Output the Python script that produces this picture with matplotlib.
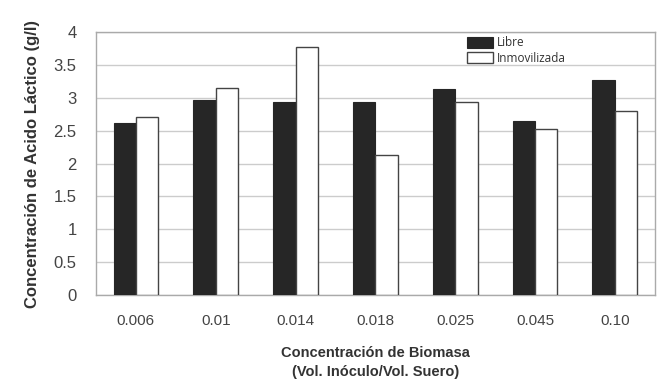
import matplotlib
matplotlib.use("Agg")
import matplotlib.pyplot as plt
import numpy as np

plt.rcParams['font.family'] = ['Liberation Sans', 'DejaVu Sans']

categorias = ["0.006", "0.01", "0.014", "0.018", "0.025", "0.045", "0.10"]
libre = [2.62, 2.97, 2.94, 2.93, 3.13, 2.65, 3.27]
inmovilizada = [2.71, 3.15, 3.77, 2.13, 2.93, 2.52, 2.80]
yticks = [0, 0.5, 1, 1.5, 2, 2.5, 3, 3.5, 4]
yticklabels = ["0", "0.5", "1", "1.5", "2", "2.5", "3", "3.5", "4"]

fig = plt.figure(figsize=(6.62, 3.88), dpi=100)
ax = fig.add_axes([0.145, 0.24, 0.844, 0.677])

x = np.arange(len(categorias))
w = 0.28
ax.bar(x - w/2, libre, w, color="#262626", edgecolor="#262626", linewidth=0.8, label="Libre", zorder=3)
ax.bar(x + w/2, inmovilizada, w, color="white", edgecolor="#444444", linewidth=1.0, label="Inmovilizada", zorder=3)

ax.set_xlim(-0.5, len(categorias) - 0.5)
ax.set_ylim(0, 4)
ax.set_yticks(yticks)
ax.set_yticklabels(yticklabels)
ax.set_xticks(x)
ax.set_xticklabels(categorias)
ax.tick_params(axis="both", length=0, colors="#444444")
ax.tick_params(axis="x", pad=14, labelsize=11)
ax.tick_params(axis="y", pad=14, labelsize=12)
ax.grid(axis="y", color="#cccccc", linewidth=1, zorder=0)
for s in ax.spines.values():
    s.set_color("#aaaaaa")
    s.set_linewidth(1)

ax.set_ylabel("Concentración de Acido Láctico (g/l)", fontsize=12, fontweight="bold", color="#333333", labelpad=10)
ax.set_xlabel("Concentración de Biomasa\n(Vol. Inóculo/Vol. Suero)", fontsize=10.5, fontweight="bold", color="#333333", labelpad=13, linespacing=1.45)

leg = ax.legend(loc="upper left", bbox_to_anchor=(0.645, 1.025), frameon=False,
                handlelength=2.2, handleheight=1.0, handletextpad=0.3, labelspacing=0.2,
                prop={"family": "Open Sans", "size": 8.5})
for t in leg.get_texts():
    t.set_color("#333333")

fig.savefig("out.png", dpi=100)
